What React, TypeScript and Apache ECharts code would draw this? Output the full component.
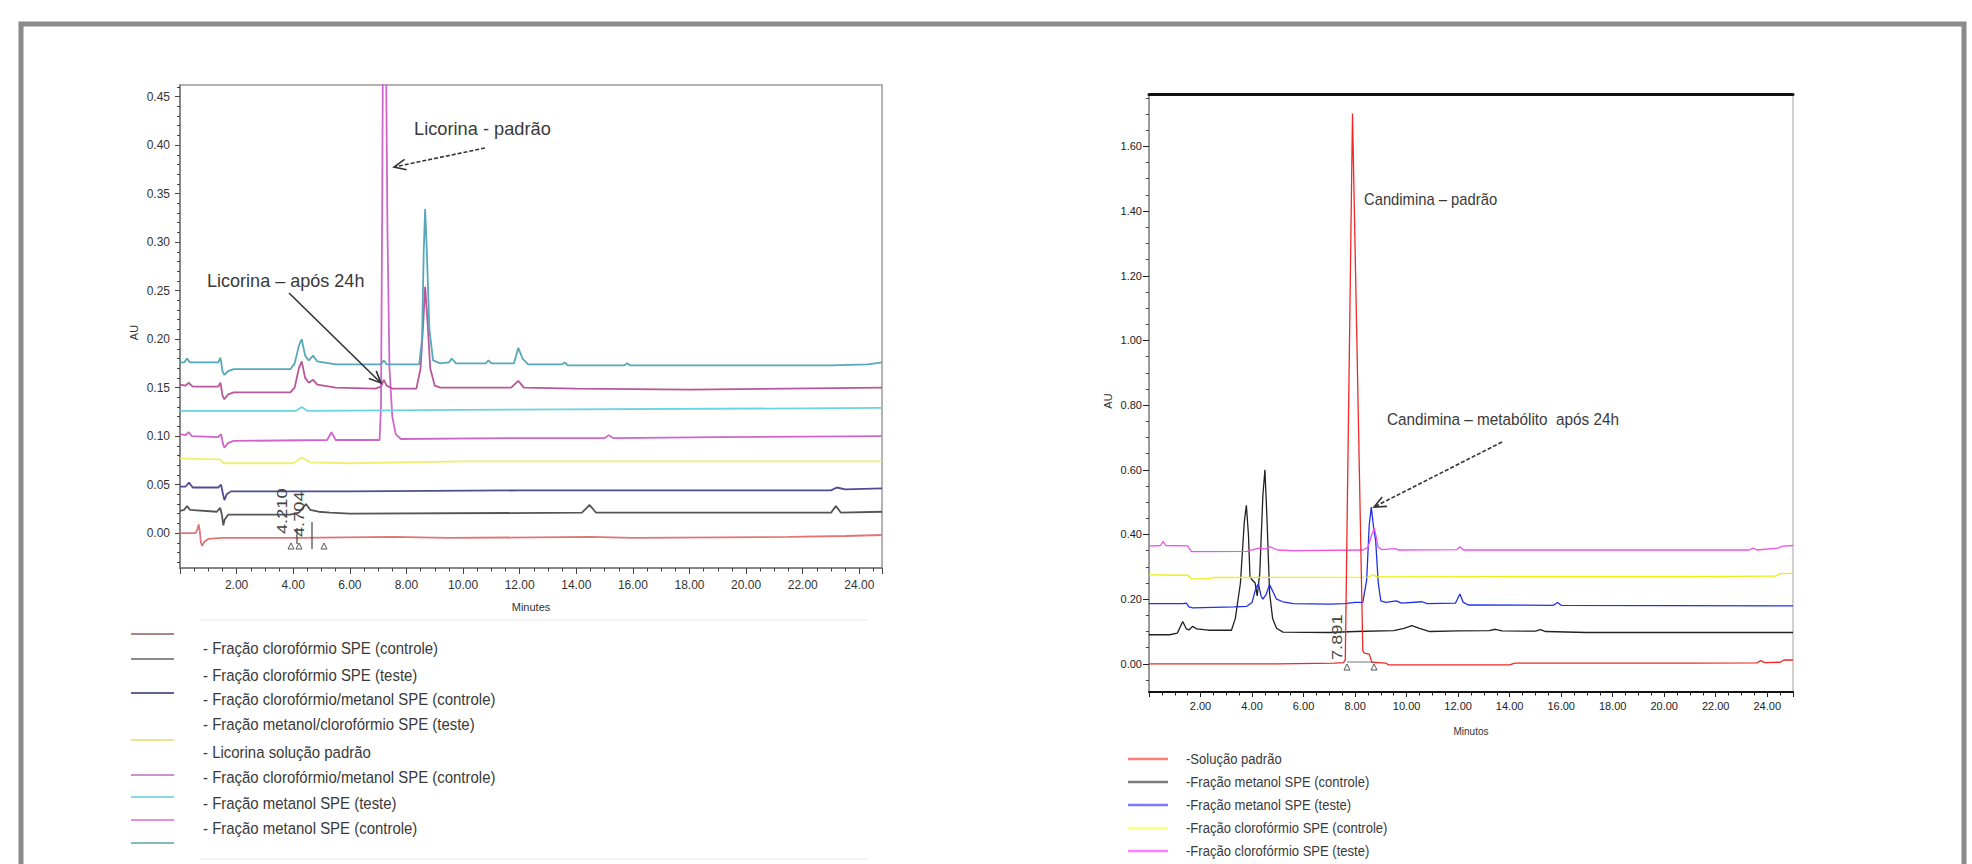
import React, { useEffect, useRef } from "react";
import * as echarts from "echarts";

// ================= LEFT CHROMATOGRAM (Licorina) =================
const LEFT_X_MIN = 0;
const LEFT_X_MAX = 24.8;
const LEFT_Y_MIN = -0.036;
const LEFT_Y_MAX = 0.462;
const LEFT_Y_TICKS = [0, 0.05, 0.1, 0.15, 0.2, 0.25, 0.3, 0.35, 0.4, 0.45];

// [minutes, AU]
const L_CLORO_CTRL = [[0,0.000],[0.55,0.000],[0.62,0.004],[0.66,0.009],[0.70,0.002],[0.74,-0.010],[0.78,-0.013],[0.86,-0.009],[1.0,-0.006],[1.5,-0.005],[4.1,-0.005],[7.5,-0.004],[9.5,-0.005],[14.5,-0.004],[16.0,-0.005],[21.5,-0.004],[23.5,-0.003],[24.8,-0.002]];
const L_CLORO_TESTE = [[0,0.023],[0.15,0.024],[0.25,0.028],[0.35,0.024],[1.3,0.022],[1.42,0.026],[1.48,0.019],[1.53,0.008],[1.58,0.014],[1.7,0.019],[3.9,0.019],[4.2,0.021],[4.45,0.030],[4.6,0.024],[4.9,0.022],[5.3,0.021],[6.0,0.020],[14.2,0.021],[14.47,0.029],[14.7,0.021],[23.0,0.021],[23.17,0.028],[23.35,0.021],[24.8,0.022]];
const L_CLOROMET_CTRL = [[0,0.048],[0.2,0.048],[0.32,0.052],[0.45,0.047],[1.35,0.047],[1.45,0.050],[1.52,0.040],[1.57,0.034],[1.65,0.040],[1.8,0.043],[6.0,0.043],[12.0,0.044],[18.0,0.044],[23.0,0.044],[23.2,0.047],[23.5,0.045],[24.8,0.046]];
const L_METCLORO_TESTE = [[0,0.077],[1.4,0.076],[1.55,0.072],[4.0,0.072],[4.3,0.078],[4.6,0.073],[6.0,0.072],[10.0,0.074],[24.8,0.074]];
const L_LICORINA_PADRAO = [[0,0.102],[0.2,0.101],[0.3,0.104],[0.42,0.100],[1.35,0.099],[1.45,0.102],[1.52,0.092],[1.57,0.088],[1.7,0.093],[1.9,0.095],[5.2,0.096],[5.35,0.104],[5.5,0.096],[7.05,0.096],[7.1,0.13],[7.14,0.32],[7.18,0.56],[7.22,0.64],[7.27,0.52],[7.33,0.31],[7.4,0.17],[7.5,0.12],[7.62,0.102],[7.8,0.097],[12.0,0.098],[15.0,0.098],[15.15,0.101],[15.3,0.098],[19.0,0.099],[24.8,0.100]];
const L_CLOROMET_CTRL2 = [[0,0.126],[4.1,0.126],[4.3,0.130],[4.5,0.126],[10.0,0.127],[24.8,0.129]];
const L_MET_TESTE = [[0,0.153],[0.2,0.152],[0.3,0.155],[0.45,0.151],[1.35,0.151],[1.43,0.155],[1.5,0.142],[1.57,0.138],[1.7,0.143],[1.9,0.145],[3.9,0.145],[4.05,0.150],[4.2,0.170],[4.3,0.177],[4.42,0.160],[4.55,0.155],[4.7,0.158],[4.85,0.153],[5.5,0.150],[6.9,0.149],[7.1,0.151],[7.2,0.158],[7.3,0.152],[7.5,0.149],[8.35,0.149],[8.5,0.17],[8.6,0.22],[8.66,0.254],[8.74,0.22],[8.84,0.17],[9.0,0.152],[9.2,0.150],[11.7,0.150],[11.95,0.157],[12.15,0.150],[14.0,0.149],[18.0,0.148],[24.8,0.150]];
const L_MET_CTRL = [[0,0.176],[0.15,0.176],[0.25,0.180],[0.35,0.176],[1.35,0.176],[1.43,0.181],[1.5,0.167],[1.57,0.163],[1.7,0.167],[1.9,0.169],[3.9,0.169],[4.05,0.175],[4.2,0.193],[4.3,0.200],[4.42,0.183],[4.55,0.178],[4.7,0.183],[4.85,0.177],[5.5,0.174],[7.1,0.174],[7.2,0.178],[7.3,0.174],[8.45,0.174],[8.55,0.20],[8.61,0.29],[8.66,0.334],[8.72,0.29],[8.81,0.21],[8.94,0.178],[9.2,0.175],[9.5,0.176],[9.6,0.180],[9.75,0.175],[10.8,0.175],[10.9,0.178],[11.0,0.175],[11.8,0.175],[11.95,0.191],[12.1,0.180],[12.3,0.174],[13.5,0.174],[13.6,0.176],[13.7,0.173],[15.7,0.173],[15.8,0.175],[15.9,0.173],[23.0,0.173],[24.3,0.174],[24.8,0.176]];

const LEFT_TRACES = [L_CLORO_CTRL, L_CLORO_TESTE, L_CLOROMET_CTRL, L_METCLORO_TESTE, L_LICORINA_PADRAO, L_CLOROMET_CTRL2, L_MET_TESTE, L_MET_CTRL];
const LEFT_NAMES = [
  "Fração clorofórmio SPE (controle)",
  "Fração clorofórmio SPE (teste)",
  "Fração clorofórmio/metanol SPE (controle)",
  "Fração metanol/clorofórmio SPE (teste)",
  "Licorina solução padrão",
  "Fração clorofórmio/metanol SPE (controle) ",
  "Fração metanol SPE (teste)",
  "Fração metanol SPE (controle)",
];
const LEFT_LEGEND_TEXTS = [
  "- Fração clorofórmio SPE (controle)",
  "- Fração clorofórmio SPE (teste)",
  "- Fração clorofórmio/metanol SPE (controle)",
  "- Fração metanol/clorofórmio SPE (teste)",
  "- Licorina solução padrão",
  "- Fração clorofórmio/metanol SPE (controle)",
  "- Fração metanol SPE (teste)",
  "- Fração metanol SPE (controle)",
];
const LEFT_RT_LABELS = ["4.210", "4.704"];

// ================= RIGHT CHROMATOGRAM (Candimina) =================
const RIGHT_X_MIN = 0;
const RIGHT_X_MAX = 25;
const RIGHT_Y_MIN = -0.087;
const RIGHT_Y_MAX = 1.762;
const RIGHT_Y_TICKS = [0, 0.2, 0.4, 0.6, 0.8, 1.0, 1.2, 1.4, 1.6];

const R_SOLUCAO_PADRAO = [[0,0.000],[5.0,0.000],[7.2,0.002],[7.55,0.004],[7.62,0.012],[7.9,1.702],[8.3,0.040],[8.36,0.033],[8.55,0.030],[8.65,0.005],[9.2,0.002],[9.3,-0.003],[14.0,-0.003],[14.2,0.002],[21.0,0.002],[23.6,0.003],[23.75,0.010],[23.9,0.004],[24.5,0.005],[24.65,0.012],[25.0,0.012]];
const R_MET_CTRL = [[0,0.090],[0.8,0.090],[1.1,0.095],[1.31,0.131],[1.45,0.108],[1.55,0.105],[1.7,0.116],[1.85,0.108],[2.3,0.104],[3.2,0.104],[3.35,0.14],[3.55,0.25],[3.7,0.44],[3.78,0.49],[3.86,0.40],[3.92,0.27],[4.0,0.26],[4.12,0.25],[4.2,0.21],[4.3,0.28],[4.42,0.52],[4.5,0.60],[4.58,0.45],[4.68,0.22],[4.8,0.14],[4.95,0.11],[5.2,0.098],[7.0,0.097],[8.0,0.100],[9.5,0.103],[9.9,0.110],[10.2,0.118],[10.5,0.110],[10.9,0.100],[12.0,0.102],[13.2,0.103],[13.45,0.107],[13.7,0.102],[15.0,0.101],[15.2,0.106],[15.4,0.100],[17.0,0.097],[25.0,0.097]];
const R_MET_TESTE = [[0,0.186],[1.3,0.186],[1.45,0.188],[1.55,0.176],[1.7,0.173],[3.3,0.176],[3.8,0.178],[4.0,0.19],[4.15,0.235],[4.25,0.247],[4.35,0.21],[4.42,0.20],[4.55,0.215],[4.68,0.245],[4.8,0.225],[4.95,0.20],[5.2,0.192],[5.6,0.186],[7.0,0.185],[7.6,0.186],[8.0,0.19],[8.3,0.19],[8.45,0.26],[8.55,0.43],[8.63,0.485],[8.72,0.42],[8.8,0.38],[8.9,0.25],[9.0,0.195],[9.2,0.19],[9.6,0.195],[9.8,0.188],[10.6,0.192],[10.8,0.186],[11.9,0.188],[12.07,0.216],[12.2,0.19],[12.4,0.182],[15.7,0.181],[15.86,0.19],[16.0,0.181],[25.0,0.179]];
const R_CLORO_CTRL = [[0,0.275],[1.5,0.274],[1.65,0.263],[2.3,0.263],[2.5,0.267],[8.5,0.268],[8.7,0.275],[8.85,0.269],[20.0,0.270],[24.3,0.271],[24.5,0.279],[25.0,0.28]];
const R_CLORO_TESTE = [[0,0.364],[0.45,0.366],[0.55,0.378],[0.65,0.366],[1.5,0.365],[1.65,0.347],[3.8,0.348],[4.25,0.358],[4.5,0.355],[4.7,0.362],[5.0,0.352],[5.6,0.350],[8.3,0.352],[8.5,0.36],[8.65,0.40],[8.75,0.42],[8.9,0.36],[9.05,0.353],[9.55,0.356],[9.7,0.352],[11.95,0.353],[12.07,0.362],[12.2,0.352],[16.0,0.352],[23.3,0.352],[23.45,0.358],[23.6,0.352],[24.4,0.358],[24.6,0.364],[25.0,0.366]];

const RIGHT_TRACES = [R_SOLUCAO_PADRAO, R_MET_CTRL, R_MET_TESTE, R_CLORO_CTRL, R_CLORO_TESTE];
const RIGHT_NAMES = [
  "Solução padrão",
  "Fração metanol SPE (controle)",
  "Fração metanol SPE (teste)",
  "Fração clorofórmio SPE (controle)",
  "Fração clorofórmio SPE (teste)",
];
const RIGHT_LEGEND_TEXTS = RIGHT_NAMES.map((n) => "-" + n);
const RIGHT_RT_LABEL = "7.891";

// ================= styles =================
const SANS = '"Liberation Sans", Arial, sans-serif';
const LEFT_COLORS = ["#e07575", "#555555", "#4d4d94", "#efee70", "#d066cc", "#6dd3dc", "#b9579c", "#56a8ba"];
const LEFT_LEGEND_COLORS = ["#a98585", "#8a8a8a", "#62628f", "#e6e68a", "#c994c9", "#86dce4", "#e78fdc", "#85b9ba"];
const RIGHT_COLORS = ["#f02828", "#222222", "#2030e6", "#eeee10", "#f050f0"];
const RIGHT_LEGEND_COLORS = ["#ff7b7b", "#7a7a7a", "#7b7bff", "#ffff80", "#ff80ff"];

function minorValues(min: number, max: number, step: number, major: number) {
  const out: number[] = [];
  const s = Math.ceil(min / step - 1e-9);
  const e = Math.floor(max / step + 1e-9);
  for (let i = s; i <= e; i++) {
    const v = +(i * step).toFixed(6);
    if (Math.abs(v / major - Math.round(v / major)) > 1e-6) out.push(v);
  }
  return out;
}

const fmtX = (v: number) => (v > 0 && Math.abs(v / 2 - Math.round(v / 2)) < 1e-6 ? v.toFixed(2) : "");
const fmtY = (v: number) => v.toFixed(2);

function arrow(x1: number, y1: number, x2: number, y2: number, dashed: boolean, w: number) {
  const ang = Math.atan2(y2 - y1, x2 - x1);
  const L = 13, a = 0.42;
  const p1 = [x2 - L * Math.cos(ang - a), y2 - L * Math.sin(ang - a)];
  const p2 = [x2 - L * Math.cos(ang + a), y2 - L * Math.sin(ang + a)];
  return [
    { type: "line", shape: { x1, y1, x2, y2 }, style: { stroke: "#333", lineWidth: w, lineDash: dashed ? [4, 2] : null }, z: 50 },
    { type: "polyline", shape: { points: [p1, [x2, y2], p2] }, style: { stroke: "#333", lineWidth: w, fill: null }, z: 50 },
  ];
}

function txt(x: number, y: number, text: string, size: number, sx: number, color = "#3a3a3a", rotation = 0) {
  return {
    type: "text", x, y, rotation, scaleX: sx, z: 50,
    style: { text, font: `${size}px ${SANS}`, fill: color, textAlign: "left", textVerticalAlign: "middle" },
  };
}

function tri(cx: number, cy: number) {
  return { type: "polygon", shape: { points: [[cx - 3, cy + 3], [cx + 3, cy + 3], [cx, cy - 3]] }, style: { stroke: "#555", fill: null, lineWidth: 1 }, z: 50 };
}

function buildOption() {
  const graphics: any[] = [];
  // outer frame
  graphics.push({ type: "rect", shape: { x: 21, y: 24, width: 1943, height: 900 }, style: { fill: null, stroke: "#8a8a8a", lineWidth: 5 }, z: 60 });
  // faint scan lines around the left legend
  graphics.push({ type: "line", shape: { x1: 200, y1: 620, x2: 868, y2: 620 }, style: { stroke: "#efefef", lineWidth: 1.5 } });
  graphics.push({ type: "line", shape: { x1: 200, y1: 859, x2: 868, y2: 859 }, style: { stroke: "#efefef", lineWidth: 1.5 } });

  // left legend
  const lLineY = [634, 659, 693, 740, 775, 797, 820, 843];
  const lTextY = [648, 675, 699, 724, 752, 777, 803, 828];
  LEFT_LEGEND_COLORS.forEach((c, i) =>
    graphics.push({ type: "line", shape: { x1: 131, y1: lLineY[i], x2: 174, y2: lLineY[i] }, style: { stroke: c, lineWidth: 2.2 } })
  );
  LEFT_LEGEND_TEXTS.forEach((t, i) => graphics.push(txt(203, lTextY[i], t, 17, 0.88)));

  // right legend
  RIGHT_LEGEND_COLORS.forEach((c, i) => {
    const y = 759 + i * 23;
    graphics.push({ type: "line", shape: { x1: 1128, y1: y, x2: 1168, y2: y }, style: { stroke: c, lineWidth: 2.5 } });
    graphics.push(txt(1186, y, RIGHT_LEGEND_TEXTS[i], 14.5, 0.9));
  });

  // annotations left
  graphics.push(txt(414, 128, "Licorina - padrão", 19, 0.96));
  graphics.push(txt(207, 280, "Licorina – após 24h", 19, 0.95));
  graphics.push(...arrow(485, 148, 394, 167, true, 1.6));
  graphics.push(...arrow(289, 293, 381, 383, false, 1.6));
  graphics.push(txt(282, 534, LEFT_RT_LABELS[0], 14, 1.3, "#444", Math.PI / 2));
  graphics.push(txt(298.5, 537, LEFT_RT_LABELS[1], 14, 1.3, "#444", Math.PI / 2));
  graphics.push(tri(291, 546), tri(299, 546), tri(324, 546));
  graphics.push({ type: "line", shape: { x1: 312, y1: 522, x2: 312, y2: 549 }, style: { stroke: "#444", lineWidth: 1.2 }, z: 50 });
  graphics.push({ type: "line", shape: { x1: 297, y1: 528, x2: 297, y2: 544 }, style: { stroke: "#444", lineWidth: 1.2 }, z: 50 });

  // annotations right
  graphics.push(txt(1364, 199, "Candimina – padrão", 17, 0.87));
  graphics.push(txt(1387, 419, "Candimina – metabólito  após 24h", 17, 0.9));
  graphics.push(...arrow(1502, 442, 1374, 507, true, 1.6));
  graphics.push(txt(1337, 660, RIGHT_RT_LABEL, 14, 1.3, "#444", Math.PI / 2));
  graphics.push({ type: "line", shape: { x1: 1347, y1: 662, x2: 1374, y2: 662 }, style: { stroke: "#777", lineWidth: 1 }, z: 50 });
  graphics.push(tri(1347, 667), tri(1374, 667));

  const tickColor = "#444";
  const series: any[] = [];
  LEFT_TRACES.forEach((d, i) =>
    series.push({
      type: "line", name: LEFT_NAMES[i], xAxisIndex: 0, yAxisIndex: 0, data: d,
      showSymbol: false, symbol: "none", silent: true, clip: true,
      lineStyle: { color: LEFT_COLORS[i], width: 1.8 }, itemStyle: { color: LEFT_COLORS[i] },
    })
  );
  RIGHT_TRACES.forEach((d, i) =>
    series.push({
      type: "line", name: RIGHT_NAMES[i], xAxisIndex: 1, yAxisIndex: 2, data: d,
      showSymbol: false, symbol: "none", silent: true, clip: true, z: i === 0 ? 3 : 2,
      lineStyle: { color: RIGHT_COLORS[i], width: 1.3 }, itemStyle: { color: RIGHT_COLORS[i] },
    })
  );

  return {
    animation: false,
    backgroundColor: "#ffffff",
    grid: [
      { left: 180, top: 85, width: 702, height: 483, show: true, borderColor: "#9a9a9a", borderWidth: 1.5 },
      { left: 1149, top: 94, width: 644, height: 598, show: true, borderColor: "#a0a0a0", borderWidth: 1 },
    ],
    xAxis: [
      {
        gridIndex: 0, type: "value", min: LEFT_X_MIN, max: LEFT_X_MAX, interval: 2,
        axisLine: { onZero: false, lineStyle: { color: "#777", width: 1.5 } },
        axisTick: { show: true, length: 6, lineStyle: { color: tickColor } },
        minorTick: { show: true, splitNumber: 4, length: 3.5, lineStyle: { color: tickColor } },
        axisLabel: { formatter: fmtX, margin: 11, fontSize: 12, color: "#333", fontFamily: SANS },
        splitLine: { show: false },
        name: "Minutes", nameLocation: "middle", nameGap: 33,
        nameTextStyle: { fontSize: 11, color: "#333", fontFamily: SANS },
      },
      {
        gridIndex: 1, type: "value", min: RIGHT_X_MIN, max: RIGHT_X_MAX, interval: 2,
        axisLine: { onZero: false, lineStyle: { color: "#111", width: 2 } },
        axisTick: { show: true, length: 5, lineStyle: { color: "#222" } },
        minorTick: { show: true, splitNumber: 4, length: 3.5, lineStyle: { color: "#222" } },
        axisLabel: { formatter: fmtX, margin: 8, fontSize: 11, color: "#222", fontFamily: SANS },
        splitLine: { show: false },
        name: "Minutos", nameLocation: "middle", nameGap: 34,
        nameTextStyle: { fontSize: 10, color: "#333", fontFamily: SANS },
      },
      {
        gridIndex: 1, type: "value", position: "top", min: RIGHT_X_MIN, max: RIGHT_X_MAX,
        axisLine: { onZero: false, lineStyle: { color: "#111", width: 3 } },
        axisTick: { show: false }, axisLabel: { show: false }, splitLine: { show: false },
      },
    ],
    yAxis: [
      {
        gridIndex: 0, type: "value", position: "left", min: LEFT_Y_MIN, max: LEFT_Y_MAX,
        axisLine: { show: true, onZero: false, lineStyle: { color: "#777", width: 1.5 } },
        axisTick: { show: true, length: 5, customValues: LEFT_Y_TICKS, lineStyle: { color: tickColor } },
        axisLabel: { customValues: LEFT_Y_TICKS, formatter: fmtY, margin: 10, fontSize: 12, color: "#333", fontFamily: SANS },
        splitLine: { show: false },
        name: "AU", nameLocation: "middle", nameGap: 41,
        nameTextStyle: { fontSize: 11, color: "#333", fontFamily: SANS, padding: [0, 12, 0, 0] },
      },
      {
        gridIndex: 0, type: "value", position: "left", min: LEFT_Y_MIN, max: LEFT_Y_MAX,
        axisLine: { show: false, onZero: false },
        axisTick: { show: true, length: 3, customValues: minorValues(LEFT_Y_MIN, LEFT_Y_MAX, 0.01, 0.05), lineStyle: { color: tickColor } },
        axisLabel: { show: false }, splitLine: { show: false },
      },
      {
        gridIndex: 1, type: "value", position: "left", min: RIGHT_Y_MIN, max: RIGHT_Y_MAX,
        axisLine: { show: true, onZero: false, lineStyle: { color: "#888", width: 1.5 } },
        axisTick: { show: true, length: 6, customValues: RIGHT_Y_TICKS, lineStyle: { color: "#222" } },
        axisLabel: { customValues: RIGHT_Y_TICKS, formatter: fmtY, margin: 7, fontSize: 11, color: "#222", fontFamily: SANS },
        splitLine: { show: false },
        name: "AU", nameLocation: "middle", nameGap: 36,
        nameTextStyle: { fontSize: 11, color: "#333", fontFamily: SANS, padding: [0, 16, 0, 0] },
      },
      {
        gridIndex: 1, type: "value", position: "left", min: RIGHT_Y_MIN, max: RIGHT_Y_MAX,
        axisLine: { show: false, onZero: false },
        axisTick: { show: true, length: 3, customValues: minorValues(RIGHT_Y_MIN, RIGHT_Y_MAX, 0.05, 0.2), lineStyle: { color: "#444" } },
        axisLabel: { show: false }, splitLine: { show: false },
      },
    ],
    series,
    graphic: { elements: graphics },
  };
}

export default function App() {
  const ref = useRef<HTMLDivElement>(null);
  useEffect(() => {
    if (!ref.current) return;
    const chart = echarts.init(ref.current, null, { renderer: "svg" });
    chart.setOption(buildOption() as any);
    return () => chart.dispose();
  }, []);
  return (
    <div
      ref={ref}
      style={{ position: "fixed", left: 0, top: 0, width: 1972, height: 864, background: "#fff" }}
    />
  );
}
